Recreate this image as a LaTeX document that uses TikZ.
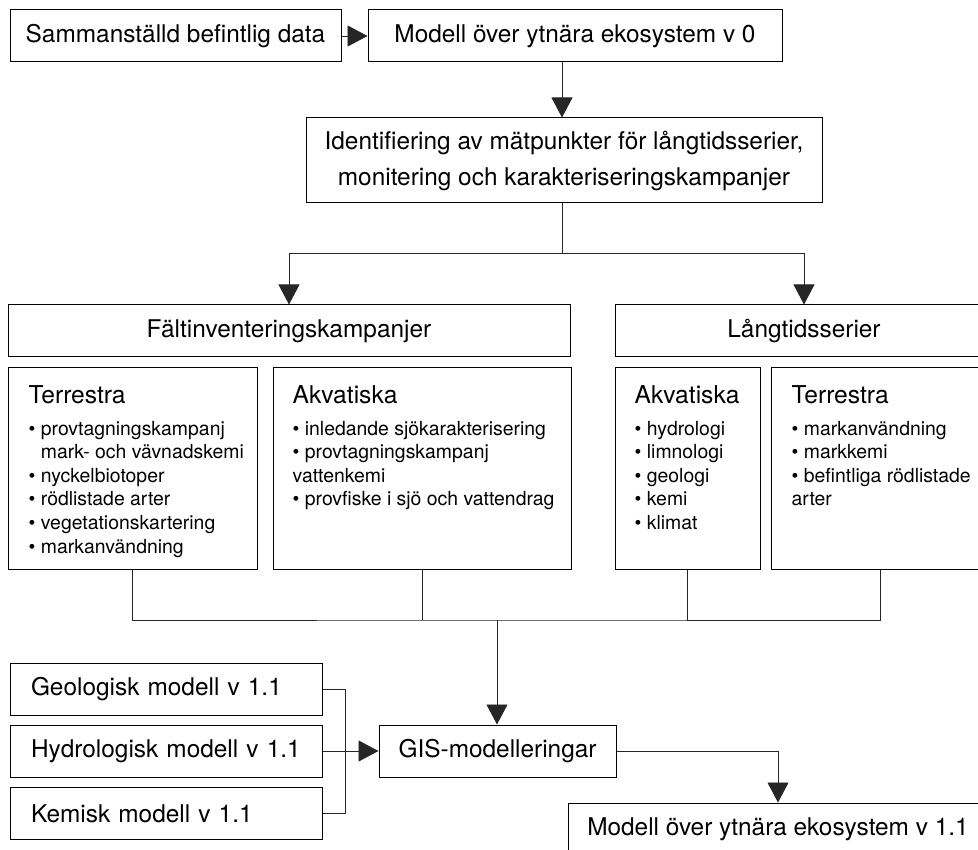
\documentclass[tikz,border=0pt]{standalone}
\usepackage{fontspec}
\setmainfont{TeX Gyre Heros}
\usetikzlibrary{arrows.meta,positioning}
\newcommand{\mainsize}{\fontsize{24.4}{36}\selectfont}
\newcommand{\itemsize}{\fontsize{19.4}{23.6}\selectfont}
\newcommand{\boxhead}[1]{{\fontsize{24.6}{28}\selectfont #1}}
\newcommand{\itm}{\textbullet\ }

\begin{document}
\begin{tikzpicture}[x=1pt,y=-1pt,
  box/.style={draw=black,line width=1pt,inner sep=0pt,align=center,font=\mainsize,minimum height=52pt},
  lbox/.style={box,align=left,inner xsep=21pt,text width=270pt},
  subbox/.style={draw=black,line width=1pt,inner sep=0pt,minimum height=201pt},
  subtext/.style={align=left,inner sep=0pt,font=\itemsize},
  conn/.style={line width=0.9pt,black!85},
  arr/.style={-{Triangle[length=20pt,width=21pt]},line width=0.9pt,black!85}]
\useasboundingbox (0,0) rectangle (978,850);
\clip (0,0) rectangle (978,850);
\node[box,minimum width=331pt] (data) at (175.5,36) {Sammanställd befintlig data};
\node[box,minimum width=414pt] (mod0) at (575,36) {Modell över ytnära ekosystem v 0};
\node[box,minimum width=516pt,minimum height=85pt] (ident) at (564,160.5) {Identifiering av mätpunkter för långtidsserier,\\ monitering och karakteriseringskampanjer};
\node[box,minimum width=562pt] (falt) at (289,331) {Fältinventeringskampanjer};
\node[box,minimum width=378pt] (lang) at (804,331) {Långtidsserier};
\node[subbox,minimum width=249pt] (terr1) at (132.5,468.5) {};
\node[subbox,minimum width=298pt] (akv1) at (422,468.5) {};
\node[subbox,minimum width=145pt] (akv2) at (687.5,468.5) {};
\node[subbox,minimum width=219pt] (terr2) at (880.5,468.5) {};
\node[subtext,below right=17.5pt and 21pt of terr1.north west] (terr1txt) {\boxhead{Terrestra}\\[8.4pt]
  \itm provtagningskampanj\\ \hphantom{\itm}mark- och vävnadskemi\\ \itm nyckelbiotoper\\
  \itm rödlistade arter\\ \itm vegetationskartering\\ \itm markanvändning};
\node[subtext,below right=17.5pt and 20pt of akv1.north west] (akv1txt) {\boxhead{Akvatiska}\\[8.4pt]
  \itm inledande sjökarakterisering\\ \itm provtagningskampanj\\ vattenkemi\\
  \itm provfiske i sjö och vattendrag};
\node[subtext,below right=17.5pt and 20pt of akv2.north west] (akv2txt) {\boxhead{Akvatiska}\\[8.4pt]
  \itm hydrologi\\ \itm limnologi\\ \itm geologi\\ \itm kemi\\ \itm klimat};
\node[subtext,below right=17.5pt and 21pt of terr2.north west] (terr2txt) {\boxhead{Terrestra}\\[8.4pt]
  \itm markanvändning\\ \itm markkemi\\ \itm befintliga rödlistade\\ arter};
\node[lbox] (geo) at (166,689) {Geologisk modell v 1.1};
\node[lbox] (hydro) at (166,751) {Hydrologisk modell v 1.1};
\node[lbox] (kemi) at (166,813.5) {Kemisk modell v 1.1};
\node[box,minimum width=237pt] (gis) at (497.5,751) {GIS-modelleringar};
\node[box,minimum width=420pt] (mod11) at (778,829) {Modell över ytnära ekosystem v 1.1};
\coordinate (split) at (562,253);
\coordinate (merge) at (497,620);
\coordinate (join) at (345,751);
\draw[arr] (data) -- (mod0);
\draw[arr] (mod0.south -| split) -- (ident.north -| split);
\draw[conn] (ident.south -| split) -- (split);
\draw[arr] (split) -| (falt.north);
\draw[arr] (split) -| (lang.north);
\draw[conn] (terr1.south) |- (merge) -| (terr2.south);
\draw[conn] (akv1.south) -- (akv1.south |- merge);
\draw[conn] (akv2.south) -- (akv2.south |- merge);
\draw[arr] (merge) -- (merge |- gis.north);
\draw[conn] (geo.east) -| (join |- kemi.east) -- (kemi.east);
\draw[arr] (hydro.east) -- (gis.west);
\draw[arr] (gis.east) -| (mod11.north);
\end{tikzpicture}
\end{document}
